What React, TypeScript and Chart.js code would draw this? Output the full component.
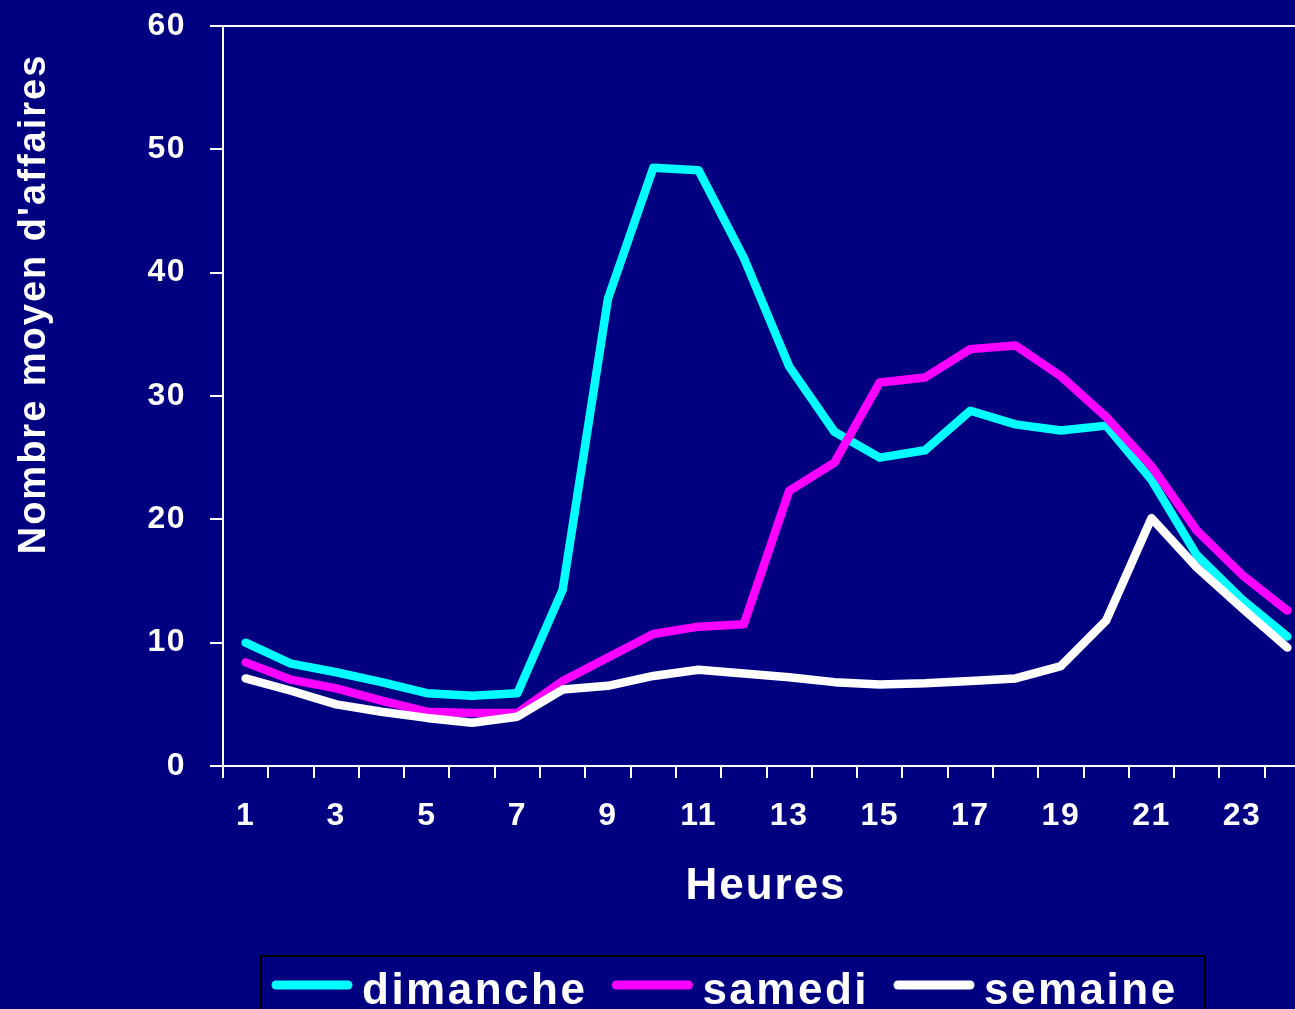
import React, { useEffect, useRef } from 'react';
import { Chart, registerables } from 'chart.js';

Chart.register(...registerables);

const hours = ['1','2','3','4','5','6','7','8','9','10','11','12','13','14','15','16','17','18','19','20','21','22','23','24'];
const dimanche = [10.0, 8.3, 7.6, 6.8, 5.9, 5.7, 5.9, 14.3, 37.9, 48.5, 48.3, 41.2, 32.4, 27.1, 25.0, 25.6, 28.8, 27.7, 27.2, 27.6, 23.2, 17.1, 13.5, 10.5];
const samedi = [8.4, 7.0, 6.3, 5.3, 4.4, 4.3, 4.3, 6.9, 8.8, 10.7, 11.3, 11.5, 22.3, 24.6, 31.1, 31.5, 33.8, 34.1, 31.6, 28.3, 24.3, 19.1, 15.5, 12.6];
const semaine = [7.1, 6.1, 5.0, 4.4, 3.9, 3.5, 4.0, 6.2, 6.5, 7.3, 7.8, 7.5, 7.2, 6.8, 6.6, 6.7, 6.9, 7.1, 8.1, 11.8, 20.1, 16.1, 12.8, 9.6];
const seriesLabels = ['dimanche', 'samedi', 'semaine'];
const seriesColors = ['#00FFFF', '#FF00FF', '#FFFFFF'];
const yMin = 0;
const yMax = 60;
const yStep = 10;
const xTitle = 'Heures';
const yTitle = "Nombre moyen d'affaires";

const BG = '#000080';
const FONT = '"Liberation Sans", Arial, sans-serif';

const decor = {
  id: 'decor',
  beforeDraw(chart: any) {
    const ctx = chart.ctx;
    ctx.save();
    ctx.fillStyle = BG;
    ctx.fillRect(0, 0, chart.width, chart.height);
    ctx.restore();
    ctx.letterSpacing = '1.5px';
  },
  afterDraw(chart: any) {
    const ctx = chart.ctx;
    const a = chart.chartArea;
    ctx.save();
    ctx.strokeStyle = '#FFFFFF';
    ctx.lineWidth = 2;
    ctx.beginPath();
    ctx.moveTo(a.left, a.top);
    ctx.lineTo(a.right, a.top);
    ctx.lineTo(a.right, a.bottom);
    ctx.stroke();

    // x title
    ctx.fillStyle = '#FFFFFF';
    ctx.font = 'bold 44px ' + FONT;
    ctx.letterSpacing = '2px';
    ctx.textAlign = 'center';
    ctx.textBaseline = 'alphabetic';
    ctx.fillText(xTitle, 766, 899);

    // y title
    ctx.save();
    ctx.font = 'bold 38px ' + FONT;
    ctx.letterSpacing = '2px';
    ctx.translate(45, 304);
    ctx.rotate(-Math.PI / 2);
    ctx.textAlign = 'center';
    ctx.fillText(yTitle, 0, 0);
    ctx.restore();

    // legend
    ctx.strokeStyle = '#000000';
    ctx.lineWidth = 2;
    ctx.strokeRect(261, 956, 944, 80);
    ctx.font = 'bold 44px ' + FONT;
    ctx.letterSpacing = '2.5px';
    ctx.textAlign = 'left';
    let x = 272;
    chart.data.datasets.forEach((ds: any) => {
      ctx.strokeStyle = ds.borderColor;
      ctx.lineWidth = 9;
      ctx.lineCap = 'round';
      ctx.beginPath();
      ctx.moveTo(x + 4, 985);
      ctx.lineTo(x + 76, 985);
      ctx.stroke();
      ctx.fillStyle = '#FFFFFF';
      ctx.fillText(ds.label, x + 90, 1004);
      x = x + 90 + ctx.measureText(ds.label).width + 25;
    });
    ctx.restore();
  },
};

export default function App() {
  const ref = useRef<HTMLCanvasElement | null>(null);

  useEffect(() => {
    document.body.style.margin = '0';
    document.body.style.background = BG;
    document.body.style.overflow = 'hidden';
    const canvas = ref.current;
    if (!canvas) return;
    const values = [dimanche, samedi, semaine];
    const chart = new Chart(canvas, {
      type: 'line',
      data: {
        labels: hours,
        datasets: values.map((v, i) => ({
          label: seriesLabels[i],
          data: v,
          borderColor: seriesColors[i],
          backgroundColor: seriesColors[i],
          borderWidth: 8.5,
          pointRadius: 0,
          tension: 0,
          fill: false,
          borderCapStyle: 'round' as const,
          borderJoinStyle: 'round' as const,
          order: 3 - i,
        })),
      },
      options: {
        responsive: false,
        animation: false,
        devicePixelRatio: 1,
        layout: { padding: { left: 0, top: 26, right: 10, bottom: 0 } },
        plugins: {
          legend: { display: false },
          tooltip: { enabled: false },
          title: { display: false },
        },
        scales: {
          x: {
            type: 'category',
            offset: true,
            afterFit(scale: any) {
              scale.height = 243;
              scale.paddingLeft = 0;
              scale.paddingRight = 0;
            },
            grid: {
              offset: true,
              drawOnChartArea: false,
              drawTicks: true,
              tickLength: 12,
              color: '#FFFFFF',
              lineWidth: 2,
            },
            border: { display: true, color: '#FFFFFF', width: 2 },
            ticks: {
              autoSkip: false,
              maxRotation: 0,
              minRotation: 0,
              padding: 19,
              color: '#FFFFFF',
              font: { family: FONT, size: 32, weight: 'bold' },
              callback: (_v: any, idx: number) => (idx % 2 === 0 ? hours[idx] : ''),
            },
          },
          y: {
            min: yMin,
            max: yMax,
            afterFit(scale: any) {
              scale.width = 223;
              scale.paddingTop = 0;
              scale.paddingBottom = 0;
            },
            grid: {
              drawOnChartArea: false,
              drawTicks: true,
              tickLength: 13,
              color: '#FFFFFF',
              lineWidth: 2,
            },
            border: { display: true, color: '#FFFFFF', width: 2 },
            ticks: {
              stepSize: yStep,
              padding: 24,
              color: '#FFFFFF',
              font: { family: FONT, size: 32, weight: 'bold' },
            },
          },
        },
      } as any,
      plugins: [decor],
    });
    return () => chart.destroy();
  }, []);

  return (
    <div style={{ width: 1295, height: 1009, overflow: 'hidden', position: 'relative', background: BG }}>
      <canvas ref={ref} width={1320} height={1009} style={{ display: 'block', width: 1320, height: 1009 }} />
    </div>
  );
}
